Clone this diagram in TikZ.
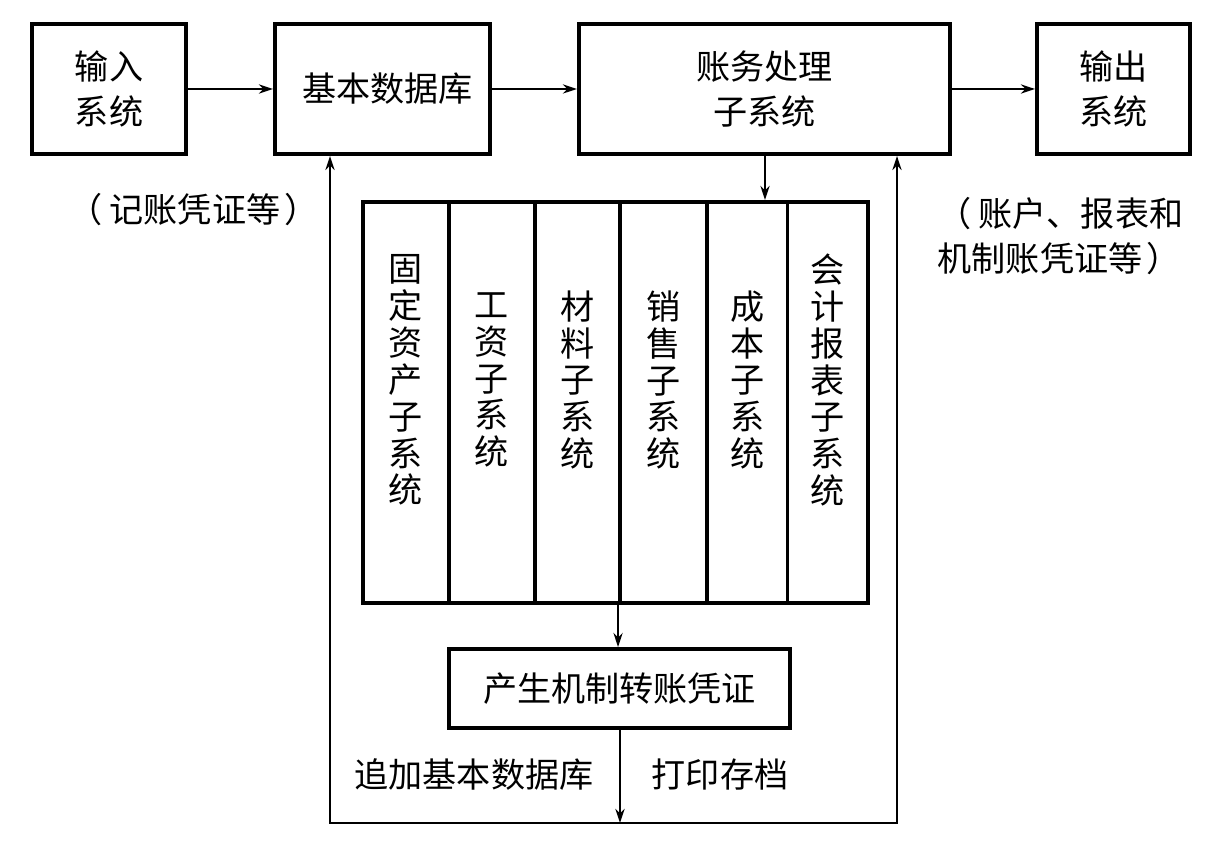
\documentclass[tikz,border=0pt]{standalone}
\usepackage{fontspec}
\setmainfont{Noto Sans CJK SC}
\usetikzlibrary{arrows.meta}
\newcommand{\lpar}{\hbox to 1.2em{\kern0em（\hss}}
\newcommand{\rpar}{\hbox to 1.2em{\kern0.12em）\hss}}
\begin{document}
\begin{tikzpicture}[x=0.01cm,y=-0.01cm,
  box/.style={draw, line width=1.1pt, inner sep=0pt, align=center, font=\fontsize{9.7}{13}\selectfont},
  col/.style={draw, line width=1.1pt, inner sep=0pt, minimum height=4.01cm},
  vtxt/.style={align=center, inner sep=0pt, font=\fontsize{9.7}{10.5}\selectfont},
  lbl/.style={inner sep=0pt, align=left, font=\fontsize{9.7}{12.8}\selectfont},
  arr/.style={line width=0.6pt, -{Stealth[length=4pt,width=2.6pt]}},
  ln/.style={line width=0.6pt, line join=miter}]
\useasboundingbox (0,0) rectangle (1230,865);
% top row
\node[box, minimum width=1.54cm, minimum height=1.30cm] (in) at (109,89) {输入\\系统};
\node[box, minimum width=2.15cm, minimum height=1.30cm] (db) at (382.5,89) {\hspace{0.1cm}基本数据库};
\node[box, minimum width=3.71cm, minimum height=1.30cm] (acct) at (764.5,89) {账务处理\\子系统};
\node[box, minimum width=1.53cm, minimum height=1.30cm] (out) at (1113.5,89) {输出\\系统};
% subsystem columns
\node[col, minimum width=0.86cm] (c1) at (406,402.5) {};
\node[col, minimum width=0.86cm] (c2) at (492,402.5) {};
\node[col, minimum width=0.85cm] (c3) at (577.5,402.5) {};
\node[col, minimum width=0.87cm] (c4) at (663.5,402.5) {};
\node[col, minimum width=0.805cm] (c5) at (747.25,402.5) {};
\node[col, minimum width=0.805cm] (c6) at (827.75,402.5) {};
\node[vtxt] (t1) at (406,380) {固\\定\\资\\产\\子\\系\\统};
\node[vtxt] (t2) at (492,380) {工\\资\\子\\系\\统};
\node[vtxt] (t3) at (577.5,380) {材\\料\\子\\系\\统};
\node[vtxt] (t4) at (663.5,380) {销\\售\\子\\系\\统};
\node[vtxt] (t5) at (747.25,380) {成\\本\\子\\系\\统};
\node[vtxt] (t6) at (827.75,380) {会\\计\\报\\表\\子\\系\\统};
% generate box
\node[box, minimum width=3.41cm, minimum height=0.79cm] (gen) at (619.5,688.5) {产生机制转账凭证};
% labels
\node[lbl] (l1) at (195,210) {\lpar 记账凭证等\rpar};
\node[lbl, anchor=west] (l2) at (937,236) {\lpar 账户、报表和\\机制账凭证等\rpar};
\node[lbl] (l3) at (474,775) {追加基本数据库};
\node[lbl] (l4) at (720,775) {打印存档};
% coordinates
\coordinate (a1) at (765,0);
\coordinate (b) at (620,823);
\coordinate (bl) at (330,823);
\coordinate (br) at (897,823);
% connectors
\draw[arr] (in.east) -- (db.west);
\draw[arr] (db.east) -- (acct.west);
\draw[arr] (acct.east) -- (out.west);
\draw[arr] (acct.south -| a1) -- (c5.north -| a1);
\draw[arr] (c4.south west) -- (gen.north -| c4.south west);
\draw[arr] (gen.south -| b) -- (b);
\draw[arr] (b) -- (bl) -- (bl |- db.south);
\draw[arr] (b) -- (br) -- (br |- acct.south);
\end{tikzpicture}
\end{document}
